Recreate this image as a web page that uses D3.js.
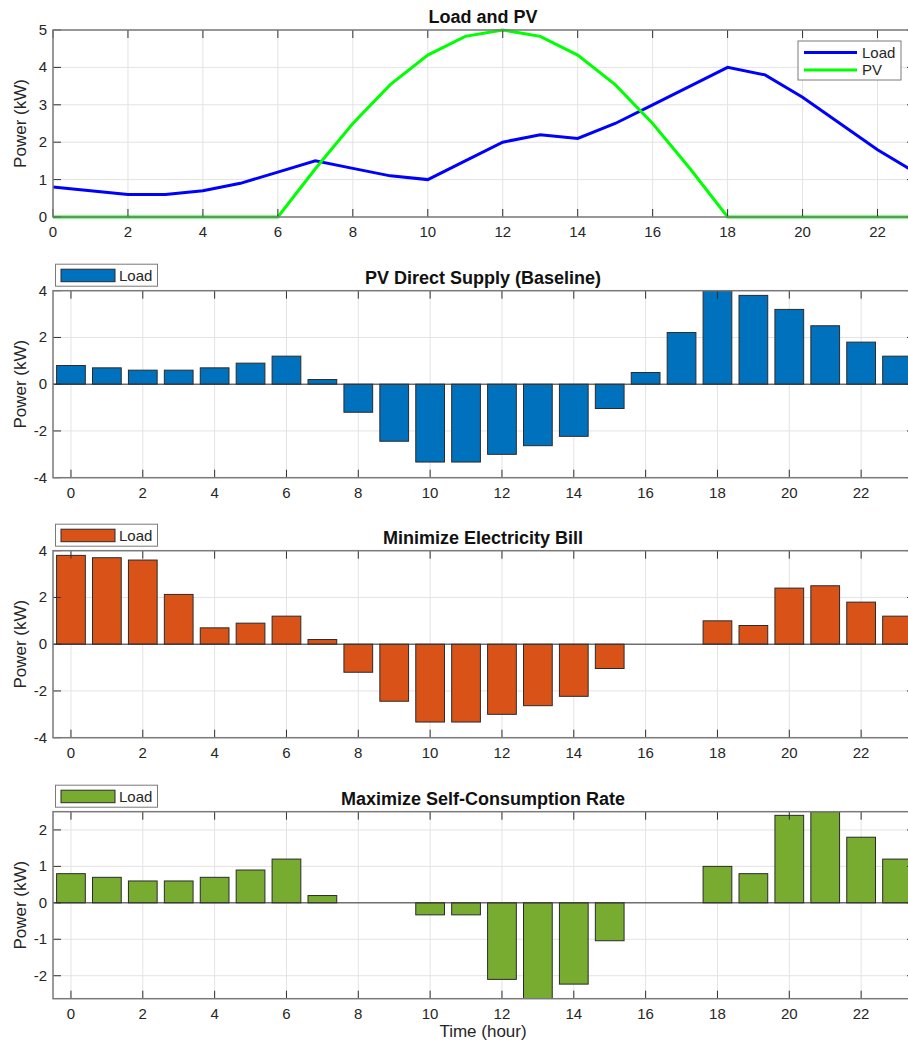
<!DOCTYPE html>
<meta charset="utf-8">
<title>Load and PV schedules</title>

<style>
body {
  margin: 0px;
  background-color: white;
}
svg {
  display: block;
  font-family: "Liberation Sans", Arial, sans-serif;
}
.grid line {
  stroke: #e3e3e3;
  stroke-width: 1;
}
.box {
  fill: none;
  stroke: #7a7a7a;
  stroke-width: 1.5;
}
.tick-mark {
  stroke: #303030;
  stroke-width: 1;
}
.tick-label {
  font-size: 15px;
  fill: #262626;
}
.title {
  font-size: 18px;
  font-weight: bold;
  fill: #111;
}
.ylabel, .xlabel {
  font-size: 17px;
  fill: #262626;
}
.bar {
  stroke: #2b2b2b;
  stroke-width: 1;
}
</style>

<script src="https://cdnjs.cloudflare.com/ajax/libs/d3/7.8.5/d3.min.js"></script>

<body>
<script>

// Chart data (hours 0..23)
var hours = d3.range(0, 24);
var load = [0.8, 0.7, 0.6, 0.6, 0.7, 0.9, 1.2, 1.5, 1.3, 1.1, 1.0, 1.5,
            2.0, 2.2, 2.1, 2.5, 3.0, 3.5, 4.0, 3.8, 3.2, 2.5, 1.8, 1.2];
var pv = [0, 0, 0, 0, 0, 0, 0, 1.29, 2.5, 3.54, 4.33, 4.83,
          5.0, 4.83, 4.33, 3.54, 2.5, 1.29, 0, 0, 0, 0, 0, 0];
var baseline = [0.8, 0.7, 0.6, 0.6, 0.7, 0.9, 1.2, 0.2, -1.2, -2.44, -3.33, -3.33,
                -3.0, -2.63, -2.23, -1.04, 0.5, 2.21, 4.0, 3.8, 3.2, 2.5, 1.8, 1.2];
var minBill = [3.8, 3.7, 3.6, 2.13, 0.7, 0.9, 1.2, 0.2, -1.2, -2.44, -3.33, -3.33,
               -3.0, -2.63, -2.23, -1.04, 0, 0, 1.0, 0.8, 2.4, 2.5, 1.8, 1.2];
var maxSelf = [0.8, 0.7, 0.6, 0.6, 0.7, 0.9, 1.2, 0.2, 0, 0, -0.33, -0.33,
               -2.1, -2.63, -2.23, -1.04, 0, 0, 1.0, 0.8, 2.4, 2.5, 1.8, 1.2];

// Tick labels
var xTicks = [0, 2, 4, 6, 8, 10, 12, 14, 16, 18, 20, 22];
var yTicks1 = [0, 1, 2, 3, 4, 5];
var yTicksBar = [-4, -2, 0, 2, 4];
var yTicks4 = [-2, -1, 0, 1, 2];

var width = 908, height = 1041;
var left = 53, right = 915, plotH = 187;

var svg = d3.select("body").append("svg")
    .attr("width", width)
    .attr("height", height);

// Draw grid, title and y label for one panel
function drawFrame(g, x, y, yTicks, top, title) {
  var grid = g.append("g").attr("class", "grid");
  grid.selectAll("line.v").data(xTicks).enter().append("line")
      .attr("x1", x).attr("x2", x)
      .attr("y1", top).attr("y2", top + plotH);
  grid.selectAll("line.h").data(yTicks).enter().append("line")
      .attr("x1", left).attr("x2", right)
      .attr("y1", y).attr("y2", y);

  g.append("text")
      .attr("class", "title")
      .attr("x", (left + right) / 2 - 1)
      .attr("y", top - 7)
      .attr("text-anchor", "middle")
      .text(title);

  g.append("text")
      .attr("class", "ylabel")
      .attr("transform", "translate(26," + (top + plotH / 2) + ") rotate(-90)")
      .attr("text-anchor", "middle")
      .text("Power (kW)");
}

// Box, inward ticks and tick labels
function drawAxes(g, x, y, yTicks, top) {
  var bottom = top + plotH;
  g.selectAll("line.xb").data(xTicks).enter().append("line")
      .attr("class", "tick-mark")
      .attr("x1", x).attr("x2", x)
      .attr("y1", bottom).attr("y2", bottom - 8);
  g.selectAll("line.xt").data(xTicks).enter().append("line")
      .attr("class", "tick-mark")
      .attr("x1", x).attr("x2", x)
      .attr("y1", top).attr("y2", top + 8);
  g.selectAll("line.yl").data(yTicks).enter().append("line")
      .attr("class", "tick-mark")
      .attr("x1", left).attr("x2", left + 8)
      .attr("y1", y).attr("y2", y);
  g.selectAll("line.yr").data(yTicks).enter().append("line")
      .attr("class", "tick-mark")
      .attr("x1", right).attr("x2", right - 8)
      .attr("y1", y).attr("y2", y);

  g.append("rect")
      .attr("class", "box")
      .attr("x", left).attr("y", top)
      .attr("width", right - left).attr("height", plotH);

  g.selectAll("text.xt").data(xTicks).enter().append("text")
      .attr("class", "tick-label")
      .attr("x", x)
      .attr("y", bottom + 20)
      .attr("text-anchor", "middle")
      .text(function(d) { return d; });
  g.selectAll("text.yt").data(yTicks).enter().append("text")
      .attr("class", "tick-label")
      .attr("x", left - 6)
      .attr("y", function(d) { return y(d) + 5; })
      .attr("text-anchor", "end")
      .text(function(d) { return d; });
}

// Panel 1: Load and PV lines
var top1 = 30;
var x1 = d3.scaleLinear().domain([0, 23]).range([left, right]);
var y1 = d3.scaleLinear().domain([0, 5]).range([top1 + plotH, top1]);
var g1 = svg.append("g");
drawFrame(g1, x1, y1, yTicks1, top1, "Load and PV");

var line = d3.line()
    .x(function(d, i) { return x1(hours[i]); })
    .y(function(d) { return y1(d); });

g1.append("path").datum(load)
    .attr("d", line)
    .attr("fill", "none")
    .attr("stroke", "#0000ff")
    .attr("stroke-width", 3);
g1.append("path").datum(pv)
    .attr("d", line)
    .attr("fill", "none")
    .attr("stroke", "#00ff00")
    .attr("stroke-width", 3);

drawAxes(g1, x1, y1, yTicks1, top1);

// Legend panel 1
var leg1 = g1.append("g");
leg1.append("rect")
    .attr("x", 798).attr("y", 41)
    .attr("width", 103).attr("height", 39)
    .attr("fill", "white").attr("stroke", "#7a7a7a");
[["Load", "#0000ff", 52.5], ["PV", "#00ff00", 70]].forEach(function(e) {
  leg1.append("line")
      .attr("x1", 804).attr("x2", 857)
      .attr("y1", e[2]).attr("y2", e[2])
      .attr("stroke", e[1]).attr("stroke-width", 3);
  leg1.append("text")
      .attr("class", "tick-label")
      .attr("x", 862).attr("y", e[2] + 5)
      .text(e[0]);
});

// Bar panels
var xb = d3.scaleLinear().domain([-0.5, 23.5]).range([left, right]);
var barW = xb(0.8) - xb(0);

function barPanel(values, top, domain, yTicks, color, title) {
  var y = d3.scaleLinear().domain(domain).range([top + plotH, top]);
  var g = svg.append("g");
  var clipId = "clip" + Math.round(top);
  g.append("clipPath").attr("id", clipId)
    .append("rect")
      .attr("x", left).attr("y", top)
      .attr("width", right - left).attr("height", plotH);

  drawFrame(g, xb, y, yTicks, top, title);

  g.append("g").attr("clip-path", "url(#" + clipId + ")")
    .selectAll("rect").data(values).enter().append("rect")
      .attr("class", "bar")
      .attr("x", function(d, i) { return xb(hours[i]) - barW / 2; })
      .attr("y", function(d) { return y(Math.max(0, d)); })
      .attr("width", barW)
      .attr("height", function(d) { return Math.abs(y(d) - y(0)); })
      .attr("fill", color);

  // bar baseline
  g.append("line")
      .attr("x1", left).attr("x2", right)
      .attr("y1", y(0)).attr("y2", y(0))
      .attr("stroke", "#333").attr("stroke-width", 1);

  drawAxes(g, xb, y, yTicks, top);

  // legend
  g.append("rect")
      .attr("x", 55.5).attr("y", top - 26.5)
      .attr("width", 102).attr("height", 22)
      .attr("fill", "white").attr("stroke", "#7a7a7a");
  g.append("rect")
      .attr("x", 61).attr("y", top - 21.5)
      .attr("width", 54).attr("height", 12.5)
      .attr("fill", color).attr("stroke", "#2b2b2b");
  g.append("text")
      .attr("class", "tick-label")
      .attr("x", 119).attr("y", top - 10)
      .text("Load");
  return g;
}

barPanel(baseline, 290.7, [-4, 4], yTicksBar, "#0072bd", "PV Direct Supply (Baseline)");
barPanel(minBill, 550.7, [-4, 4], yTicksBar, "#d95319", "Minimize Electricity Bill");
var g4 = barPanel(maxSelf, 811.7, [d3.min(maxSelf), d3.max(maxSelf)], yTicks4, "#77ac30", "Maximize Self-Consumption Rate");

g4.append("text")
    .attr("class", "xlabel")
    .attr("x", (left + right) / 2 - 1)
    .attr("y", 1037)
    .attr("text-anchor", "middle")
    .text("Time (hour)");

</script>
